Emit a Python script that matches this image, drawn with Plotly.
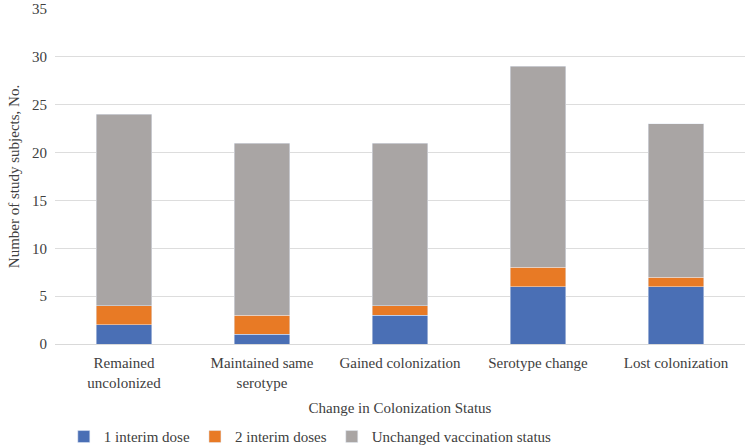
import plotly.graph_objects as go

categories = ["Remained<br>uncolonized", "Maintained same<br>serotype", "Gained colonization",
              "Serotype change", "Lost colonization"]
one_dose = [2, 1, 3, 6, 6]
two_doses = [2, 2, 1, 2, 1]
unchanged = [20, 18, 17, 21, 16]
y_ticks = [0, 5, 10, 15, 20, 25, 30, 35]

font = "Liberation Serif, Times New Roman, serif"
txt = "#404040"

fig = go.Figure()
fig.add_trace(go.Bar(x=categories, y=one_dose, name="1 interim dose", marker_color="#4A6FB5"))
fig.add_trace(go.Bar(x=categories, y=two_doses, name="2 interim doses", marker_color="#E87A25"))
fig.add_trace(go.Bar(x=categories, y=unchanged, name="Unchanged vaccination status", marker_color="#A9A5A4"))

fig.update_layout(
    barmode="stack",
    bargap=0.6,
    width=749, height=448,
    margin=dict(l=55, r=4, t=9, b=104, autoexpand=False),
    paper_bgcolor="white",
    plot_bgcolor="white",
    font=dict(family=font, size=15, color=txt),
    legend=dict(orientation="h", x=0.37, xanchor="center", y=-0.277, yanchor="middle",
                font=dict(family=font, size=15, color=txt), traceorder="normal",
                itemwidth=30),
    xaxis=dict(
        title=dict(text="Change in Colonization Status", standoff=12,
                   font=dict(family=font, size=15, color=txt)),
        showline=True, linecolor="#D9D9D9", linewidth=1,
        tickfont=dict(family=font, size=15, color=txt),
        ticklabelstandoff=5,
        automargin=False,
    ),
    yaxis=dict(
        title=dict(text="Number of study subjects, No.", standoff=8,
                   font=dict(family=font, size=15, color=txt)),
        range=[0, 35], tickvals=y_ticks,
        gridcolor="#DDDDDD", zeroline=False,
        tickfont=dict(family=font, size=15, color=txt),
        ticklabelstandoff=7,
        automargin=False,
    ),
)

fig.write_html("out.html", config={"displayModeBar": False},
               post_script="document.body.style.margin='0';")
